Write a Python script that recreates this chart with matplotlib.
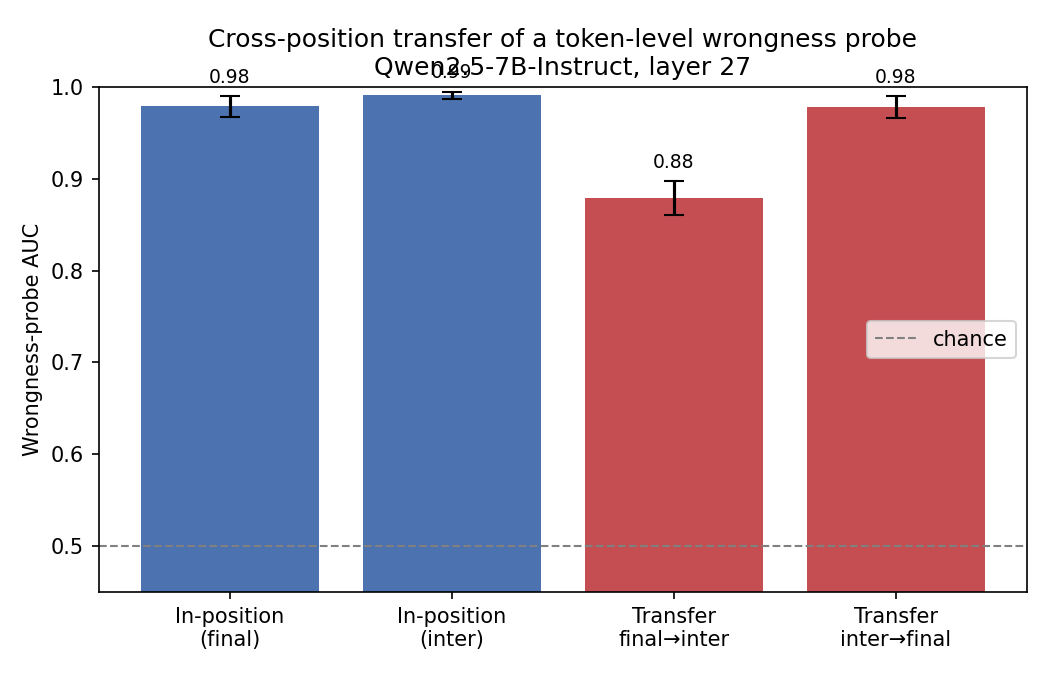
import matplotlib
matplotlib.use('Agg')
import matplotlib.pyplot as plt
import numpy as np

labels = ['In-position\n(final)', 'In-position\n(inter)', 'Transfer\nfinal\u2192inter', 'Transfer\ninter\u2192final']
auc = [0.979, 0.991, 0.879, 0.978]
err = [0.0115, 0.004, 0.0185, 0.012]
colors = ['#4C72B0', '#4C72B0', '#C44E52', '#C44E52']

fig, ax = plt.subplots(figsize=(7, 4.5), dpi=150)
x = np.arange(len(labels))
ax.bar(x, auc, yerr=err, color=colors, capsize=5, width=0.8)
for xi, v, e in zip(x, auc, err):
    ax.text(xi, v + e + 0.01, f'{v:.2f}', ha='center', va='bottom', fontsize=9)
ax.axhline(0.5, color='gray', ls='--', lw=1, label='chance')
ax.set_xticks(x)
ax.set_xticklabels(labels)
ax.set_ylim(0.45, 1.0)
ax.set_ylabel('Wrongness-probe AUC')
ax.set_title('Cross-position transfer of a token-level wrongness probe\nQwen2.5-7B-Instruct, layer 27')
ax.legend(loc='center right')
fig.subplots_adjust(left=0.094, right=0.978, top=0.871, bottom=0.123)
fig.savefig('out.png')
